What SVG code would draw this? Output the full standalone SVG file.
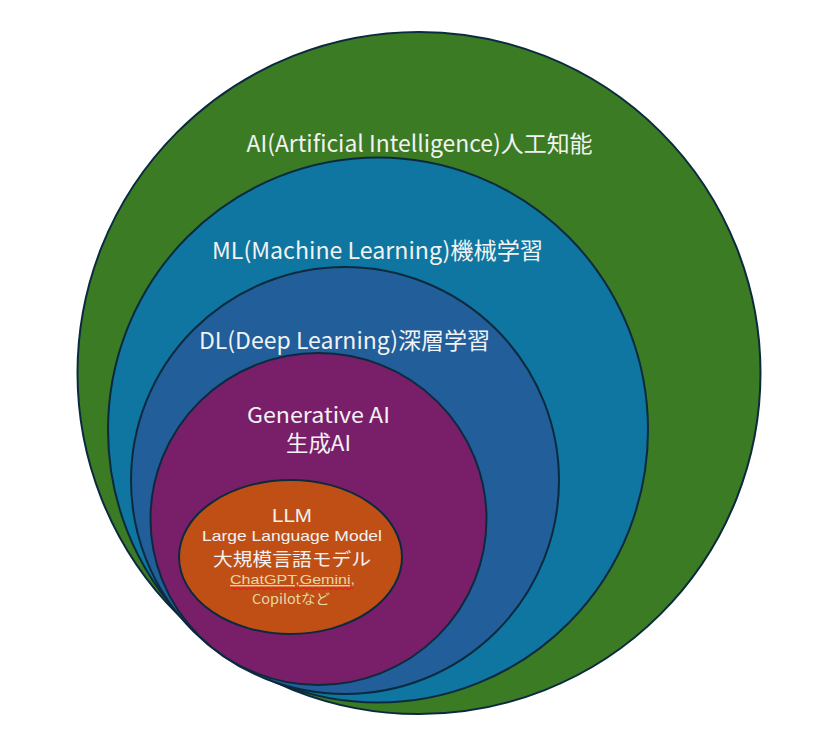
<svg xmlns="http://www.w3.org/2000/svg" width="818" height="754" viewBox="0 0 818 754">
<style>
  .ring { stroke: #0c2a3e; stroke-width: 2; }
  .lbl { font-family: "Noto Sans CJK JP", "Noto Sans", "Liberation Sans", sans-serif; fill: #f2f2f2; text-anchor: middle; }
  .lat { font-family: "Liberation Sans", "Noto Sans", sans-serif; }
  .big { font-size: 23px; }
  .mid { font-size: 21.5px; }
  .tan { fill: #e6d8a8; font-size: 13.5px; }
</style>
<rect width="818" height="754" fill="#ffffff"/>
<g id="ai">
  <ellipse class="ring" cx="419" cy="373" rx="341.5" ry="341" fill="#3b7b24"/>
  <text class="lbl big" x="419.5" y="152" textLength="346" lengthAdjust="spacingAndGlyphs">AI(Artificial Intelligence)人工知能</text>
</g>
<g id="ml">
  <ellipse class="ring" cx="378" cy="430" rx="270" ry="272.5" fill="#0e76a0"/>
  <text class="lbl big" x="377.5" y="259" textLength="331" lengthAdjust="spacingAndGlyphs">ML(Machine Learning)機械学習</text>
</g>
<g id="dl">
  <ellipse class="ring" cx="345" cy="480.5" rx="214" ry="213.5" fill="#215e9a"/>
  <text class="lbl big" x="344.5" y="349" textLength="291" lengthAdjust="spacingAndGlyphs">DL(Deep Learning)深層学習</text>
</g>
<g id="genai">
  <ellipse class="ring" cx="318.5" cy="519" rx="168" ry="166" fill="#791f6a"/>
  <text class="lbl mid" x="318.5" y="423" textLength="143" lengthAdjust="spacingAndGlyphs">Generative AI</text>
  <text class="lbl mid" x="318.5" y="451" textLength="65" lengthAdjust="spacingAndGlyphs">生成AI</text>
</g>
<g id="llm">
  <ellipse class="ring" cx="290.5" cy="557" rx="111.5" ry="77" fill="#c04f15"/>
  <text class="lbl lat" x="292" y="522" font-size="19" textLength="40" lengthAdjust="spacingAndGlyphs">LLM</text>
  <text class="lbl lat" x="292" y="541" font-size="14.5" textLength="180" lengthAdjust="spacingAndGlyphs">Large Language Model</text>
  <text class="lbl" x="292" y="566" font-size="18" textLength="158" lengthAdjust="spacingAndGlyphs">大規模言語モデル</text>
  <text class="lbl lat tan" x="292.5" y="584" textLength="125" lengthAdjust="spacingAndGlyphs" text-decoration="underline">ChatGPT,Gemini,</text>
  <path d="M230 588.5 q1.5 -1.6 3 0 t3 0 t3 0 t3 0 t3 0 t3 0 t3 0 t3 0 t3 0 t3 0 t3 0 t3 0 t3 0 t3 0 t3 0 t3 0 t3 0 t3 0 t3 0 t3 0 t3 0 t3 0 t3 0 t3 0 t3 0 t3 0 t3 0 t3 0 t3 0 t3 0 t3 0 t3 0 t3 0 t3 0 t3 0 t3 0 t3 0 t3 0 t3 0 t3 0 t3 0" fill="none" stroke="#e02020" stroke-width="1.1"/>
  <text class="lbl tan" x="291" y="604" textLength="78" lengthAdjust="spacingAndGlyphs">Copilotなど</text>
</g>
<g id="connectors"></g>
</svg>
